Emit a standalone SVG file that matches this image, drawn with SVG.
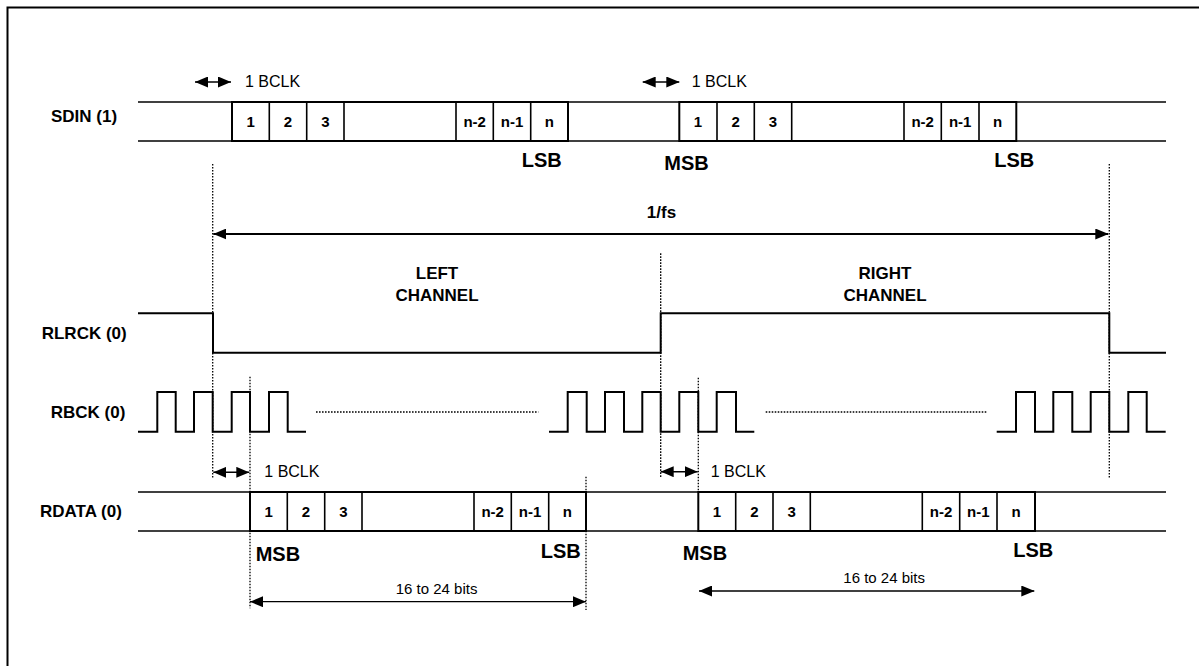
<svg xmlns="http://www.w3.org/2000/svg" width="1199" height="666" viewBox="0 0 1199 666">
<style>
.frame{stroke:#000;stroke-width:2;fill:none}
.rail{stroke:#000;stroke-width:1.3;fill:none}
.box{stroke:#000;stroke-width:2;fill:#fff}
.div{stroke:#000;stroke-width:1.6}
.wave{stroke:#000;stroke-width:2;fill:none}
.dot{stroke:#000;stroke-width:1.3;stroke-dasharray:1.6 1.4;fill:none}
.arr{stroke:#000;stroke-width:1.6;fill:none;marker-start:url(#ah);marker-end:url(#ah)}
.lab{font-family:"Liberation Sans",Arial,sans-serif;font-weight:bold;font-size:17px;fill:#000}
.bit{font-family:"Liberation Sans",Arial,sans-serif;font-weight:bold;font-size:15px;fill:#000;text-anchor:middle}
.sb{font-family:"Liberation Sans",Arial,sans-serif;font-weight:bold;font-size:20px;fill:#000}
.reg{font-family:"Liberation Sans",Arial,sans-serif;font-size:16px;fill:#000}
.small{font-family:"Liberation Sans",Arial,sans-serif;font-size:15px;fill:#000}
.mid{text-anchor:middle}
</style>
<defs>
<marker id="ah" viewBox="0 0 13 11" refX="13" refY="5.5" markerWidth="13" markerHeight="11" orient="auto-start-reverse" markerUnits="userSpaceOnUse">
<path d="M0,0 L13,5.5 L0,11 z" fill="#000"/>
</marker>
</defs>
<rect width="1199" height="666" fill="#fff"/>
<path class="frame" d="M7.5,666 V7.5 H1199"/>

<g id="sdin">
<text class="lab" x="51" y="122">SDIN (1)</text>
<line class="rail" x1="138" y1="102" x2="1166" y2="102"/>
<line class="rail" x1="138" y1="141" x2="1166" y2="141"/>
<rect class="box" x="232" y="102" width="336" height="39"/>
<path class="div" d="M269.3,102V141M306.7,102V141M344,102V141M456,102V141M493.3,102V141M530.7,102V141"/>
<text class="bit" x="250.7" y="127">1</text><text class="bit" x="288" y="127">2</text><text class="bit" x="325.3" y="127">3</text>
<text class="bit" x="474.7" y="127">n-2</text><text class="bit" x="512" y="127">n-1</text><text class="bit" x="549.3" y="127">n</text>
<rect class="box" x="679.3" y="102" width="337" height="39"/>
<path class="div" d="M717,102V141M754.3,102V141M791.7,102V141M904,102V141M941.3,102V141M979,102V141"/>
<text class="bit" x="698" y="127">1</text><text class="bit" x="735.7" y="127">2</text><text class="bit" x="773" y="127">3</text>
<text class="bit" x="922.7" y="127">n-2</text><text class="bit" x="960.2" y="127">n-1</text><text class="bit" x="997.7" y="127">n</text>
<text class="sb" x="521.7" y="167">LSB</text>
<text class="sb" x="664.3" y="170">MSB</text>
<text class="sb" x="994.3" y="167">LSB</text>
<text class="reg" x="245" y="87">1 BCLK</text>
<text class="reg" x="691.7" y="87">1 BCLK</text>
</g>

<g id="rlrck">
<text class="lab" x="41.7" y="339">RLRCK (0)</text>
<path class="wave" d="M138,313.3 H213 V352.7 H660.7 V313.3 H1109.3 V352.7 H1166"/>
<text class="lab mid" x="437" y="279">LEFT</text>
<text class="lab mid" x="437" y="301">CHANNEL</text>
<text class="lab mid" x="885" y="279">RIGHT</text>
<text class="lab mid" x="885" y="301">CHANNEL</text>
<text class="lab mid" x="661.5" y="218">1/fs</text>
</g>

<g id="rbck">
<text class="lab" x="50.7" y="418">RBCK (0)</text>
<path class="wave" d="M138,431.7 H157.3 V392 H175.7 V431.7 H194 V392 H212.7 V431.7 H231.7 V392 H250 V431.7 H269 V392 H287.7 V431.7 H306"/>
<path class="wave" d="M549,431.7 H567.7 V392 H586.7 V431.7 H605 V392 H624 V431.7 H642.3 V392 H660.7 V431.7 H679.3 V392 H698.3 V431.7 H716.7 V392 H736 V431.7 H754.3"/>
<path class="wave" d="M996.7,431.7 H1016 V392 H1035 V431.7 H1053.3 V392 H1072.3 V431.7 H1090.7 V392 H1109.3 V431.7 H1128.3 V392 H1146.7 V431.7 H1165.7"/>
<line class="dot" x1="316" y1="412" x2="538.3" y2="412"/>
<line class="dot" x1="765.7" y1="412" x2="987.7" y2="412"/>
</g>

<g id="rdata">
<text class="lab" x="40" y="517">RDATA (0)</text>
<line class="rail" x1="138" y1="492" x2="1166" y2="492"/>
<line class="rail" x1="138" y1="531" x2="1166" y2="531"/>
<rect class="box" x="250" y="492" width="336" height="39"/>
<path class="div" d="M287.3,492V531M324.7,492V531M362,492V531M474,492V531M511.3,492V531M548.7,492V531"/>
<text class="bit" x="268.7" y="517">1</text><text class="bit" x="306" y="517">2</text><text class="bit" x="343.3" y="517">3</text>
<text class="bit" x="492.7" y="517">n-2</text><text class="bit" x="530" y="517">n-1</text><text class="bit" x="567.3" y="517">n</text>
<rect class="box" x="698.3" y="492" width="336.7" height="39"/>
<path class="div" d="M735.7,492V531M773,492V531M810.3,492V531M922.3,492V531M959.7,492V531M997,492V531"/>
<text class="bit" x="717" y="517">1</text><text class="bit" x="754.3" y="517">2</text><text class="bit" x="791.7" y="517">3</text>
<text class="bit" x="941" y="517">n-2</text><text class="bit" x="978.3" y="517">n-1</text><text class="bit" x="1016" y="517">n</text>
<text class="sb" x="255.7" y="560.7">MSB</text>
<text class="sb" x="540.7" y="558.3">LSB</text>
<text class="sb" x="682.7" y="560">MSB</text>
<text class="sb" x="1013.3" y="557.3">LSB</text>
<text class="reg" x="264.3" y="477">1 BCLK</text>
<text class="reg" x="710.7" y="477">1 BCLK</text>
<text class="small" x="395.7" y="594">16 to 24 bits</text>
<text class="small" x="843.3" y="582.7">16 to 24 bits</text>
</g>

<g id="connectors">
<line class="dot" x1="212.7" y1="164" x2="212.7" y2="478.3"/>
<line class="dot" x1="1109.3" y1="164" x2="1109.3" y2="478.3"/>
<line class="dot" x1="250" y1="376.7" x2="250" y2="608.3"/>
<line class="dot" x1="660.7" y1="253.3" x2="660.7" y2="477.3"/>
<line class="dot" x1="698.3" y1="377.7" x2="698.3" y2="492"/>
<line class="dot" x1="586" y1="476.7" x2="586" y2="610"/>
<line class="arr" x1="195" y1="82" x2="231" y2="82"/>
<line class="arr" x1="642.7" y1="82" x2="679.3" y2="82"/>
<line class="arr" x1="213.3" y1="472.3" x2="249.3" y2="472.3"/>
<line class="arr" x1="660.7" y1="471.7" x2="697.7" y2="471.7"/>
<line class="arr" style="stroke-width:2" x1="213.3" y1="234" x2="1108.3" y2="234"/>
<line class="arr" style="stroke-width:1.3" x1="250" y1="601.7" x2="586" y2="601.7"/>
<line class="arr" style="stroke-width:1.3" x1="699" y1="591" x2="1034.3" y2="591"/>
</g>
</svg>
